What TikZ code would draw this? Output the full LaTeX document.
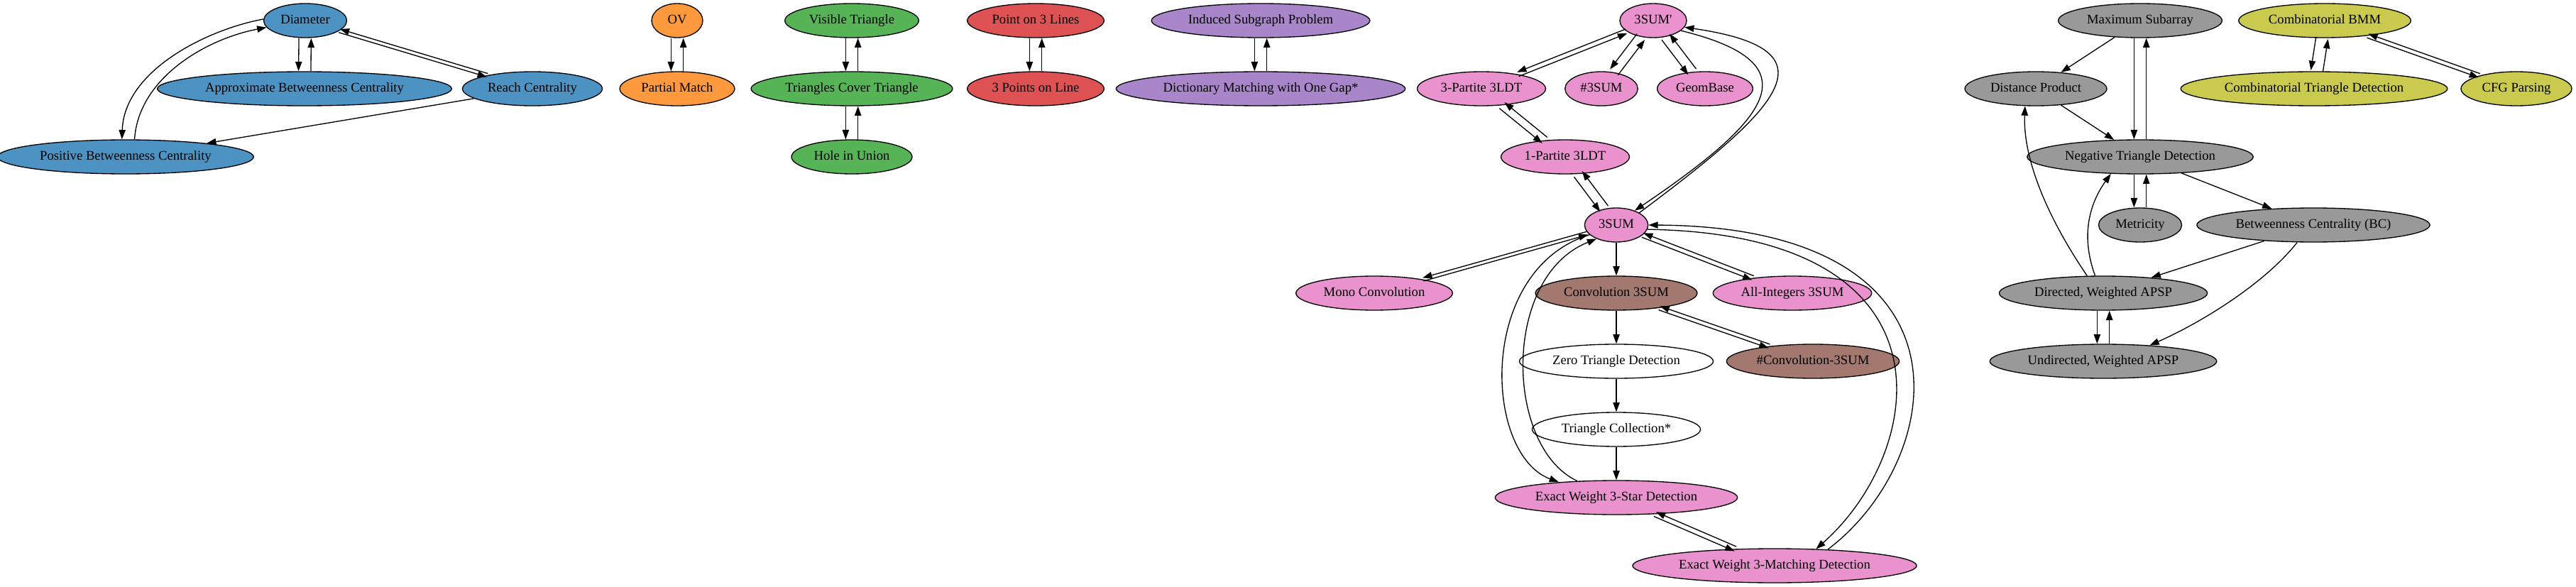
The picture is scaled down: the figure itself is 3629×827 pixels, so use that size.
\documentclass[tikz,border=0pt]{standalone}
\usepackage{fontspec}
\setmainfont{Liberation Serif}
\usetikzlibrary{shapes.geometric,arrows.meta,calc}

\definecolor{cblue}{RGB}{76,146,195}
\definecolor{corange}{RGB}{255,153,62}
\definecolor{cgreen}{RGB}{86,179,86}
\definecolor{cred}{RGB}{222,82,83}
\definecolor{cpurple}{RGB}{169,133,202}
\definecolor{cbrown}{RGB}{163,120,111}
\definecolor{cpink}{RGB}{233,146,206}
\definecolor{cgray}{RGB}{153,153,153}
\definecolor{colive}{RGB}{201,202,78}

% two opposite edges between a pair of nodes, side by side
\newcommand\pairgap{6.5pt}
\newcommand\twoway[2]{%
  \path (#1) -- coordinate[pos=0] (ts) coordinate[pos=1] (te) (#2);
  \draw[arr] let \p1=($(te)-(ts)$), \n1={veclen(\x1,\y1)}, \n2={\x1/\n1}, \n3={\y1/\n1}
    in ($(ts)+({-\pairgap*\n3*\n3},{\pairgap*\n2*\n3})$) -- ($(te)+({-\pairgap*\n3*\n3},{\pairgap*\n2*\n3})$);
  \draw[arr] let \p1=($(te)-(ts)$), \n1={veclen(\x1,\y1)}, \n2={\x1/\n1}, \n3={\y1/\n1}
    in ($(te)+({\pairgap*\n3*\n3},{-\pairgap*\n2*\n3})$) -- ($(ts)+({\pairgap*\n3*\n3},{-\pairgap*\n2*\n3})$);
}

\begin{document}
\begin{tikzpicture}[x=0.75pt,y=0.75pt,line width=1pt,
 prob/.style={ellipse,draw,fill=#1,font=\fontsize{14}{16}\selectfont,
  inner xsep=5pt,inner ysep=3pt,text height=9.5pt,text depth=3pt,
  minimum width=54pt,minimum height=36pt},
 prob/.default=white,
 arr/.style={-{Triangle[length=10pt,width=7pt]}}]
\useasboundingbox (0,0) rectangle (3629,-827);
% graph problems
\node[prob=cblue] (diam) at (430,-29) {Diameter};
\node[prob=cblue] (abc) at (429,-125) {Approximate Betweenness Centrality};
\node[prob=cblue] (reach) at (750,-125) {Reach Centrality};
\node[prob=cblue] (pbc) at (177,-221) {Positive Betweenness Centrality};
% OV
\node[prob=corange] (ov) at (954,-29) {OV};
\node[prob=corange] (pm) at (954,-125) {Partial Match};
% geometry
\node[prob=cgreen] (vis) at (1200,-29) {Visible Triangle};
\node[prob=cgreen] (tct) at (1200,-125) {Triangles Cover Triangle};
\node[prob=cgreen] (hole) at (1200,-221) {Hole in Union};
\node[prob=cred] (plines) at (1459,-29) {Point on 3 Lines};
\node[prob=cred] (ponline) at (1459,-125) {3 Points on Line};
\node[prob=cpurple] (isp) at (1776,-29) {Induced Subgraph Problem};
\node[prob=cpurple] (dmg) at (1776,-125) {Dictionary Matching with One Gap*};
% 3SUM
\node[prob=cpink] (sump) at (2329,-29) {3SUM\textquotesingle};
\node[prob=cpink] (tp) at (2087,-125) {3-Partite 3LDT};
\node[prob=cpink] (nsum) at (2256,-125) {\#3SUM};
\node[prob=cpink] (geom) at (2402,-125) {GeomBase};
\node[prob=cpink] (op) at (2205,-221) {1-Partite 3LDT};
\node[prob=cpink] (sum) at (2277,-317) {3SUM};
\node[prob=cpink] (mono) at (1936,-413) {Mono Convolution};
\node[prob=cbrown] (conv) at (2277,-413) {Convolution 3SUM};
\node[prob=cpink] (allint) at (2525,-413) {All-Integers 3SUM};
\node[prob] (zero) at (2277,-509) {Zero Triangle Detection};
\node[prob=cbrown] (nconv) at (2554,-509) {\#Convolution-3SUM};
\node[prob] (tcoll) at (2277,-605) {Triangle Collection*};
\node[prob=cpink] (star) at (2277,-701) {Exact Weight 3-Star Detection};
\node[prob=cpink] (match) at (2500,-797) {Exact Weight 3-Matching Detection};
% APSP
\node[prob=cgray] (msa) at (3015,-29) {Maximum Subarray};
\node[prob=cgray] (dp) at (2868,-125) {Distance Product};
\node[prob=cgray] (ntd) at (3015,-221) {Negative Triangle Detection};
\node[prob=cgray] (metr) at (3015,-317) {Metricity};
\node[prob=cgray] (bc) at (3259,-317) {Betweenness Centrality (BC)};
\node[prob=cgray] (dapsp) at (2963,-413) {Directed, Weighted APSP};
\node[prob=cgray] (uapsp) at (2963,-509) {Undirected, Weighted APSP};
% BMM
\node[prob=colive] (bmm) at (3275,-29) {Combinatorial BMM};
\node[prob=colive] (ctd) at (3260,-125) {Combinatorial Triangle Detection};
\node[prob=colive] (cfg) at (3545,-125) {CFG Parsing};

\twoway{diam}{abc}
\twoway{diam}{reach}
\draw[arr] (reach) -- (pbc);
\draw[arr] (diam.178) .. controls (290,-42) and (175,-100) .. (pbc.102);
\draw[arr] (pbc.63) .. controls (195,-110) and (290,-55) .. (diam.190);
\twoway{ov}{pm}
\twoway{vis}{tct}
\twoway{tct}{hole}
\twoway{plines}{ponline}
\twoway{isp}{dmg}

\twoway{sump}{tp}
\twoway{sump}{nsum}
\twoway{sump}{geom}
\twoway{tp}{op}
\twoway{op}{sum}
\draw[arr] (sum.28) .. controls (2510,-150) and (2590,-70) .. (sump.-12);
\draw[arr] (sump.-20) .. controls (2560,-90) and (2490,-170) .. (sum.38);
\twoway{sum}{mono}
\twoway{sum}{allint}
\draw[arr] (sum) -- (conv);
\twoway{conv}{nconv}
\draw[arr] (conv) -- (zero);
\draw[arr] (zero) -- (tcoll);
\draw[arr] (tcoll) -- (star);
\draw[arr] (sum.200) .. controls (2080,-380) and (2090,-640) .. (star.165);
\draw[arr] (star.157) .. controls (2120,-630) and (2115,-390) .. (sum.215);
\twoway{star}{match}
\draw[arr] (sum.-8) .. controls (2770,-330) and (2710,-640) .. (match.22);
\draw[arr] (match.17) .. controls (2740,-650) and (2800,-320) .. (sum.0);

\draw[arr] (msa) -- (dp);
\twoway{msa}{ntd}
\draw[arr] (dp) -- (ntd);
\twoway{ntd}{metr}
\draw[arr] (ntd) -- (bc);
\draw[arr] (bc) -- (dapsp);
\draw[arr] (bc.-133) .. controls (3190,-400) and (3100,-455) .. (uapsp.19);
\twoway{dapsp}{uapsp}
\draw[arr] (dapsp.133) .. controls (2880,-300) and (2850,-220) .. (dp.-122);
\draw[arr] (dapsp.115) .. controls (2930,-330) and (2945,-285) .. (ntd.-150);

\twoway{bmm}{ctd}
\twoway{bmm}{cfg}
\end{tikzpicture}
\end{document}
